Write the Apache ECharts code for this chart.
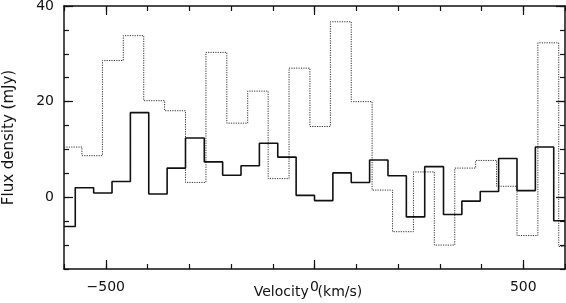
<!DOCTYPE html>
<html>
<head>
<meta charset="utf-8">
<script src="https://cdn.jsdelivr.net/npm/echarts@6/dist/echarts.min.js"></script>
<style>html,body{margin:0;padding:0;background:#fff}#c{width:566px;height:303px}</style>
</head>
<body>
<div id="c"></div>
<script>
// Solid spectrum: left edges of channels (km/s) and flux (mJy)
var solidEdges = [-600, -573, -529, -485, -441, -397, -353, -309, -264, -220, -176, -132, -88, -44, 0, 44, 88, 132, 176, 220, 264, 309, 353, 397, 441, 485, 529, 573];
var solidFlux  = [-6.1, 2.0, 0.9, 3.3, 17.7, 0.7, 6.1, 12.4, 7.4, 4.6, 6.6, 11.3, 8.4, 0.4, -0.7, 5.1, 3.1, 7.8, 4.5, -4.1, 6.4, -3.6, -0.8, 1.2, 8.1, 1.4, 10.5, -4.9];
// Dotted spectrum
var dottedEdges = [-600, -557, -508, -458, -409, -359, -309, -260, -210, -160, -111, -61, -11, 38, 88, 138, 187, 237, 287, 336, 386, 436, 485, 535, 585];
var dottedFlux  = [10.5, 8.7, 28.6, 33.8, 20.2, 18.1, 3.1, 30.3, 15.5, 22.2, 3.9, 27.0, 14.8, 36.7, 20.0, 1.5, -7.2, 5.3, -10.0, 6.1, 7.7, 2.3, -8.0, 32.3, -10.3];
var xEnd = 600;
var xMajorTicks = [-500, 0, 500];
var yMajorTicks = [0, 20, 40];

function stepData(edges, vals) {
  var d = edges.map(function (e, i) { return [e, vals[i]]; });
  d.push([xEnd, vals[vals.length - 1]]);
  return d;
}

var FONT = 'DejaVu Sans';
var ink = '#111';
function minus(v) { return String(v).replace('-', '\u2212'); }

var xBase = { type: 'value', min: -600, max: 600, gridIndex: 0, splitLine: { show: false } };
var yBase = { type: 'value', min: -15, max: 40, gridIndex: 0, splitLine: { show: false } };

var chart = echarts.init(document.getElementById('c'), null, { renderer: 'canvas' });
chart.setOption({
  animation: false,
  backgroundColor: '#fff',
  grid: { left: 64, right: 1, top: 6, bottom: 34, outerBoundsMode: 'none', containLabel: false },
  xAxis: [
    Object.assign({}, xBase, {
      position: 'bottom', interval: 100,
      axisLine: { show: true, onZero: false, lineStyle: { color: ink, width: 1.5 } },
      axisTick: { show: true, inside: true, length: 5, lineStyle: { color: ink, width: 1.2 } },
      axisLabel: { show: true, customValues: xMajorTicks, formatter: minus, fontFamily: FONT, fontSize: 14, color: ink, margin: 11 },
      name: 'Velocity  (km/s)', nameLocation: 'middle', nameGap: 16, nameMoveOverlap: false,
      nameTextStyle: { fontFamily: FONT, fontSize: 14, color: ink, verticalAlign: 'top', padding: [0, 13, 0, 0] }
    }),
    Object.assign({}, xBase, {
      position: 'bottom',
      axisLine: { show: false, onZero: false },
      axisTick: { show: true, inside: true, length: 9, customValues: xMajorTicks, lineStyle: { color: ink, width: 1.2 } },
      axisLabel: { show: false }
    }),
    Object.assign({}, xBase, {
      position: 'top', interval: 100,
      axisLine: { show: true, onZero: false, lineStyle: { color: ink, width: 1.5 } },
      axisTick: { show: true, inside: true, length: 5, lineStyle: { color: ink, width: 1.2 } },
      axisLabel: { show: false }
    }),
    Object.assign({}, xBase, {
      position: 'top',
      axisLine: { show: false, onZero: false },
      axisTick: { show: true, inside: true, length: 9, customValues: xMajorTicks, lineStyle: { color: ink, width: 1.2 } },
      axisLabel: { show: false }
    })
  ],
  yAxis: [
    Object.assign({}, yBase, {
      position: 'left', interval: 5,
      axisLine: { show: true, onZero: false, lineStyle: { color: ink, width: 1.5 } },
      axisTick: { show: true, inside: true, length: 5, lineStyle: { color: ink, width: 1.2 } },
      axisLabel: { show: true, customValues: yMajorTicks, formatter: minus, fontFamily: FONT, fontSize: 14, color: ink, margin: 10 },
      name: 'Flux density (mJy)', nameLocation: 'middle', nameGap: 47, nameRotate: 90, nameMoveOverlap: false,
      nameTextStyle: { fontFamily: FONT, fontSize: 15, color: ink }
    }),
    Object.assign({}, yBase, {
      position: 'left',
      axisLine: { show: false, onZero: false },
      axisTick: { show: true, inside: true, length: 9, customValues: yMajorTicks, lineStyle: { color: ink, width: 1.2 } },
      axisLabel: { show: false }
    }),
    Object.assign({}, yBase, {
      position: 'right', interval: 5,
      axisLine: { show: true, onZero: false, lineStyle: { color: ink, width: 1.5 } },
      axisTick: { show: true, inside: true, length: 5, lineStyle: { color: ink, width: 1.2 } },
      axisLabel: { show: false }
    }),
    Object.assign({}, yBase, {
      position: 'right',
      axisLine: { show: false, onZero: false },
      axisTick: { show: true, inside: true, length: 9, customValues: yMajorTicks, lineStyle: { color: ink, width: 1.2 } },
      axisLabel: { show: false }
    })
  ],
  series: [
    {
      type: 'line', step: 'end', xAxisIndex: 0, yAxisIndex: 0,
      data: stepData(dottedEdges, dottedFlux),
      symbol: 'none', clip: true,
      lineStyle: { color: '#333', width: 1, type: [1.2, 1.2] }
    },
    {
      type: 'line', step: 'end', xAxisIndex: 0, yAxisIndex: 0,
      data: stepData(solidEdges, solidFlux),
      symbol: 'none', clip: true,
      lineStyle: { color: '#111', width: 1.6 }
    }
  ]
});
</script>
</body>
</html>
